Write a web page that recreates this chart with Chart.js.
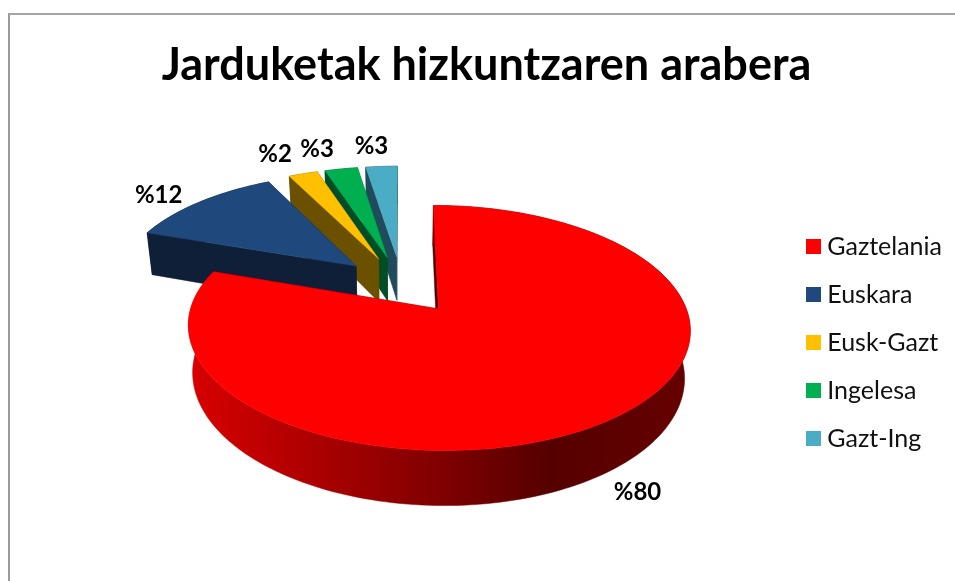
<!DOCTYPE html>
<html>
<head>
<meta charset="utf-8">
<script src="https://cdn.jsdelivr.net/npm/chart.js@4"></script>
<style>
html, body { margin: 0; padding: 0; background: #fff; overflow: hidden; }
#frame { position: absolute; left: 8px; top: 13px; right: 0; bottom: 0; border-left: 2px solid #9c9c9c; border-top: 2px solid #a4a4a4; }
#wrap { position: absolute; left: 20px; top: 13px; width: 932px; height: 568px; }
</style>
</head>
<body>
<div id="frame"></div>
<div id="wrap"><canvas id="canvas_pie" width="932" height="568"></canvas></div>
<script>
const categories = ['Gaztelania', 'Euskara', 'Eusk-Gazt', 'Ingelesa', 'Gazt-Ing'];
const shares = [80.3, 12.3, 2.3, 2.6, 2.5];
const topColors = ['#ff0000', '#1f497d', '#ffc000', '#00b050', '#4bacc6'];
const sideColors = ['#500000', '#0f1f38', '#6b5000', '#004d26', '#1f4b5c'];
const labelNudges = [[29, 72], [-41, -7], [-28, -20], [-24, -20], [-10, -20]];

// small legend swatches, wider than the box Chart.js reserves so the text sits close
const swatches = topColors.map(color => {
    const c = document.createElement('canvas');
    c.width = 15;
    c.height = 15;
    const g = c.getContext('2d');
    g.fillStyle = color;
    g.fillRect(0, 0, 15, 15);
    return c;
});

// disc coordinates -> screen, a flat perspective of the pie seen from above
const camera = { shift: -4, lift: -57.9, scaleX: 240, scaleY: 112.1, tilt: -0.151, depth: 45, shrink: 0.98 };

function project(arc, r, angle, lower) {
    const mid = (arc.startAngle + arc.endAngle) / 2;
    const explode = arc.options.offset / arc.outerRadius;
    const u = explode * Math.cos(mid) + r * Math.cos(angle);
    const v = explode * Math.sin(mid) + r * Math.sin(angle);
    const den = 1 + camera.tilt * v;
    let x = camera.scaleX * u / den;
    let y = arc.y + camera.lift + camera.scaleY * v / den;
    if (lower) {
        x *= camera.shrink;
        y += camera.depth / den;
    }
    return [arc.x + camera.shift + x, y];
}

function rimPoints(arc, lower) {
    const steps = Math.max(4, Math.ceil((arc.endAngle - arc.startAngle) * 40));
    const pts = [];
    for (let i = 0; i <= steps; i++) {
        const a = arc.startAngle + (arc.endAngle - arc.startAngle) * i / steps;
        pts.push(project(arc, 1, a, lower));
    }
    return pts;
}

function fillPoly(ctx, pts, style) {
    ctx.beginPath();
    pts.forEach((p, i) => i ? ctx.lineTo(p[0], p[1]) : ctx.moveTo(p[0], p[1]));
    ctx.closePath();
    ctx.fillStyle = style;
    ctx.fill();
    ctx.strokeStyle = style;
    ctx.lineWidth = 0.5;
    ctx.stroke();
}

function wallStyle(ctx, index, upper) {
    if (index !== 0) return sideColors[index];
    const xs = upper.map(p => p[0]);
    const grad = ctx.createLinearGradient(Math.min(...xs), 0, Math.max(...xs), 0);
    grad.addColorStop(0, '#d80000');
    grad.addColorStop(0.5, '#800000');
    grad.addColorStop(0.72, '#550000');
    grad.addColorStop(1, '#660000');
    return grad;
}

const pie3d = {
    id: 'pie3d',
    beforeDatasetsDraw(chart) {
        const ctx = chart.ctx;
        const arcs = chart.getDatasetMeta(0).data;
        // back to front: the last slice is the farthest, the big one goes on top
        for (let i = arcs.length - 1; i >= 0; i--) {
            const arc = arcs[i];
            const upper = rimPoints(arc, false);
            const lower = rimPoints(arc, true);
            const apexUp = project(arc, 0, 0, false);
            const apexLow = project(arc, 0, 0, true);
            const first = upper[0], last = upper[upper.length - 1];
            fillPoly(ctx, [apexUp, last, lower[lower.length - 1], apexLow], sideColors[i]);
            fillPoly(ctx, [apexUp, first, lower[0], apexLow], sideColors[i]);
            fillPoly(ctx, upper.concat(lower.slice().reverse()), wallStyle(ctx, i, upper));
            fillPoly(ctx, [apexUp].concat(upper), topColors[i]);
        }
        ctx.save();
        ctx.font = 'bold 24px Lato';
        ctx.fillStyle = '#000';
        ctx.textAlign = 'center';
        ctx.textBaseline = 'middle';
        arcs.forEach((arc, i) => {
            const mid = (arc.startAngle + arc.endAngle) / 2;
            const p = project(arc, 1, mid, false);
            ctx.fillText('%' + Math.round(shares[i]), p[0] + labelNudges[i][0], p[1] + labelNudges[i][1]);
        });
        ctx.restore();
        return false;
    }
};

const ctx = document.getElementById('canvas_pie').getContext('2d');
const chart = new Chart(ctx, {
    type: 'pie',
    data: {
        labels: categories,
        datasets: [{
            data: shares,
            backgroundColor: topColors,
            borderWidth: 0,
            offset: 51.5
        }]
    },
    options: {
        responsive: false,
        animation: false,
        radius: 200,
        layout: { padding: { left: 1 } },
        plugins: {
            title: {
                display: true,
                text: 'Jarduketak hizkuntzaren arabera',
                color: '#000',
                font: { family: 'Lato', size: 45, weight: 'bold' },
                padding: { top: 25, bottom: 12 }
            },
            legend: {
                position: 'right',
                fullSize: false,
                labels: {
                    color: '#111',
                    font: { family: 'Lato', size: 25 },
                    usePointStyle: true,
                    pointStyleWidth: 2,
                    boxHeight: 15,
                    padding: 23,
                    generateLabels: c => Chart.overrides.pie.plugins.legend.labels.generateLabels(c)
                        .map((item, i) => ({ ...item, pointStyle: swatches[i] }))
                }
            },
            tooltip: { enabled: false }
        }
    },
    plugins: [pie3d]
});
</script>
</body>
</html>
